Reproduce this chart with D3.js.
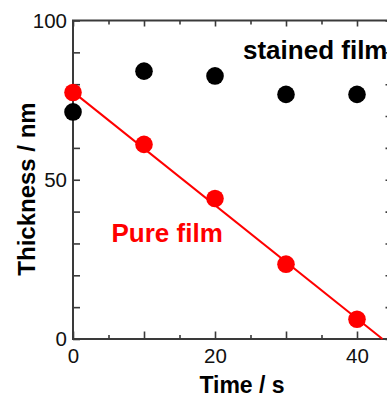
<!DOCTYPE html>
<html>
<head>
<meta charset="utf-8">
<script src="https://cdn.jsdelivr.net/npm/d3@7"></script>
<style>
  body { margin: 0; background: #fff; }
  svg { display: block; font-family: "Liberation Sans", Arial, sans-serif; }
</style>
</head>
<body>
<svg id="chart" width="387" height="398"></svg>
<script>
// values
const times = [0, 10, 20, 30, 40];
const stainedFilm = [71.3, 84.1, 82.6, 76.8, 76.8];
const pureFilm = [77.4, 61.1, 44.1, 23.5, 6.2];
// linear fit through pure film: [intercept, slope]
const pureFit = [77.6, -1.78];
const xLabelTicks = [0, 20, 40];
const xMajorTicks = [0, 10, 20, 30, 40];
const xMinorTicks = [5, 15, 25, 35];
const yLabelTicks = [0, 50, 100];
const yTicks = [0, 10, 20, 30, 40, 50, 60, 70, 80, 90, 100];

const svg = d3.select("#chart");
const axisColor = "#3a3a3a";

const x = d3.scaleLinear().domain([0, 45]).range([73, 392.5]);
const y = d3.scaleLinear().domain([0, 100]).range([339, 20.5]);

// frame ticks (all pointing inward)
const addAxis = (axis, transform, size) => {
    const g = svg.append("g")
        .attr("transform", transform)
        .call(axis.tickSize(size).tickFormat(""));
    g.selectAll("line").attr("stroke", axisColor).attr("stroke-width", 1.6);
    g.select(".domain").remove();
    return g;
}

addAxis(d3.axisBottom(x).tickValues(xMajorTicks), `translate(0,${y(0)})`, -7.5);
addAxis(d3.axisBottom(x).tickValues(xMinorTicks), `translate(0,${y(0)})`, -4);
addAxis(d3.axisTop(x).tickValues(xMajorTicks), `translate(0,${y(100)})`, -6);
addAxis(d3.axisTop(x).tickValues(xMinorTicks), `translate(0,${y(100)})`, -4);
addAxis(d3.axisLeft(y).tickValues(yTicks), `translate(${x(0)},0)`, -7);
addAxis(d3.axisRight(y).tickValues(yTicks), `translate(${x(45)},0)`, -7);

// box
svg.append("rect")
    .attr("x", x(0)).attr("y", y(100))
    .attr("width", x(45) - x(0)).attr("height", y(0) - y(100))
    .attr("fill", "none")
    .attr("stroke", axisColor)
    .attr("stroke-width", 2);

// tick labels
const xl = svg.append("g")
    .attr("transform", `translate(0,${y(0)})`)
    .call(d3.axisBottom(x).tickValues(xLabelTicks).tickSize(0).tickPadding(9));
xl.select(".domain").remove();
xl.selectAll("text").attr("font-size", 20.5).attr("fill", "#111").attr("font-family", null);

const yl = svg.append("g")
    .attr("transform", `translate(${x(0)},0)`)
    .call(d3.axisLeft(y).tickValues(yLabelTicks).tickSize(0).tickPadding(6));
yl.select(".domain").remove();
yl.selectAll("text").attr("font-size", 20.5).attr("fill", "#111").attr("font-family", null);

// axis titles
svg.append("text")
    .attr("x", 242).attr("y", 393)
    .attr("text-anchor", "middle")
    .attr("font-size", 23).attr("font-weight", "bold")
    .text("Time / s");

svg.append("text")
    .attr("transform", "translate(35,189) rotate(-90)")
    .attr("text-anchor", "middle")
    .attr("font-size", 24).attr("font-weight", "bold")
    .text("Thickness / nm");

// fit line
const tEnd = -pureFit[0] / pureFit[1];
const fitLine = d3.line()
    .x(d => x(d))
    .y(d => y(pureFit[0] + pureFit[1] * d));
svg.append("path")
    .datum([0, tEnd])
    .attr("d", fitLine)
    .attr("fill", "none")
    .attr("stroke", "#ff0000")
    .attr("stroke-width", 2);

// points
svg.append("g").selectAll("circle")
    .data(times.map((t, i) => [t, stainedFilm[i]]))
    .join("circle")
    .attr("cx", d => x(d[0]))
    .attr("cy", d => y(d[1]))
    .attr("r", 8.8)
    .attr("fill", "#000");

svg.append("g").selectAll("circle")
    .data(times.map((t, i) => [t, pureFilm[i]]))
    .join("circle")
    .attr("cx", d => x(d[0]))
    .attr("cy", d => y(d[1]))
    .attr("r", 8.8)
    .attr("fill", "#ff0000");

// series labels
svg.append("text")
    .attr("x", 243).attr("y", 59)
    .attr("font-size", 26).attr("font-weight", "bold")
    .attr("fill", "#000")
    .text("stained film");

svg.append("text")
    .attr("x", 111.5).attr("y", 242)
    .attr("font-size", 26).attr("font-weight", "bold")
    .attr("fill", "#ff0000")
    .text("Pure film");
</script>
</body>
</html>
